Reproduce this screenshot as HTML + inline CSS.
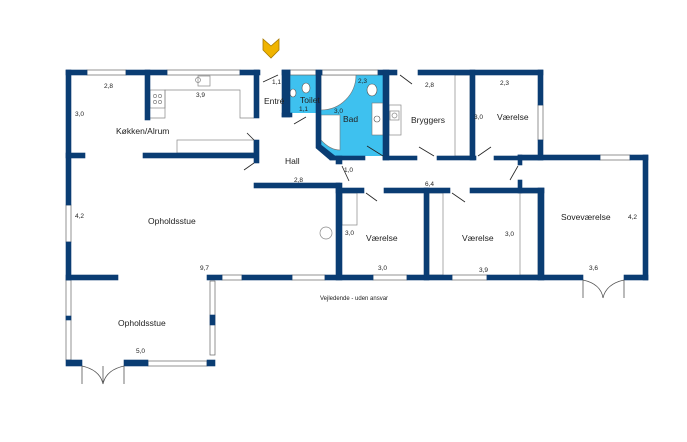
<!DOCTYPE html>
<html><head><meta charset="utf-8"><style>
html,body{margin:0;padding:0;background:#fff;width:687px;height:442px;overflow:hidden}
svg{display:block}
text{font-family:"Liberation Sans",sans-serif;fill:#222}
.r{font-size:8.5px}.d{font-size:6.5px}
</style></head><body>
<svg width="687" height="442" viewBox="0 0 687 442" xmlns="http://www.w3.org/2000/svg">
<rect x="290" y="75" width="26" height="38" fill="#3ec1ef"/>
<polygon points="321,75 383,75 383,156 365,156 333,156 321,145" fill="#3ec1ef"/>
<path d="M321,115 L340,115 L340,150 Q330,150 321,140 Z" fill="#fff" stroke="#777" stroke-width="0.6"/>
<path d="M321,75 L356,75 A35,35 0 0 1 321,110 Z" fill="#fff" stroke="#777" stroke-width="0.6"/>
<rect x="372" y="103" width="11" height="32" fill="#fff" stroke="#777" stroke-width="0.6"/>
<circle cx="377" cy="119" r="3" fill="none" stroke="#555" stroke-width="0.6"/>
<ellipse cx="372" cy="90" rx="5" ry="6" fill="#fff" stroke="#555" stroke-width="0.6"/>
<ellipse cx="306" cy="88" rx="4" ry="5" fill="#fff" stroke="#555" stroke-width="0.6"/>
<ellipse cx="293" cy="93" rx="3" ry="4" fill="#fff" stroke="#555" stroke-width="0.6"/>
<g fill="none" stroke="#888" stroke-width="0.7">
<polyline points="150,118 165,118 165,90 240,90 240,118 254,118"/>
<rect x="150" y="90" width="15" height="18"/>
<rect x="177" y="140" width="77" height="13"/>
<rect x="198" y="76" width="12" height="10"/>
<rect x="389" y="105" width="12" height="30"/>
<rect x="455" y="75" width="15" height="81"/>
<rect x="342" y="193" width="15" height="32"/>
<rect x="429" y="193" width="14" height="82"/>
<rect x="520" y="193" width="18" height="82"/>
<circle cx="326" cy="233" r="6"/>
<circle cx="198" cy="80" r="2.5"/>
<circle cx="155" cy="96" r="1.6"/><circle cx="160" cy="96" r="1.6"/><circle cx="155" cy="102" r="1.6"/><circle cx="160" cy="102" r="1.6"/>
<rect x="390" y="111" width="9" height="9"/>
<circle cx="394.5" cy="115.5" r="2.5"/>
</g>
<g fill="#fff" stroke="#666" stroke-width="0.7">
<rect x="87" y="70" width="39" height="5"/><rect x="167" y="70" width="73" height="5"/>
<rect x="290" y="70" width="26" height="5"/><rect x="322" y="70" width="56" height="5"/>
<rect x="538" y="105" width="5" height="35"/><rect x="600" y="155" width="30" height="5"/>
<rect x="222" y="275" width="20" height="5"/><rect x="292" y="275" width="33" height="5"/>
<rect x="373" y="275" width="34" height="5"/><rect x="452" y="275" width="35" height="5"/>
<rect x="66" y="205" width="5" height="37"/><rect x="66" y="280" width="5" height="80"/>
<rect x="148" y="361" width="59" height="5"/><rect x="210" y="281" width="5" height="74"/>
</g>
<g fill="#0a3d73" stroke="#0a3d73" stroke-width="0.6">
<rect x="66" y="70" width="21" height="5"/><rect x="126" y="70" width="41" height="5"/><rect x="240" y="70" width="20" height="5"/>
<rect x="282" y="70" width="8" height="5"/><rect x="316" y="70" width="6" height="5"/><rect x="378" y="70" width="19" height="5"/><rect x="418" y="70" width="125" height="5"/>
<rect x="538" y="70" width="5" height="35"/><rect x="538" y="140" width="5" height="20"/>
<rect x="518" y="155" width="82" height="5"/><rect x="630" y="155" width="18" height="5"/>
<rect x="643" y="155" width="5" height="125"/>
<rect x="207" y="275" width="15" height="5"/><rect x="242" y="275" width="50" height="5"/><rect x="325" y="275" width="48" height="5"/><rect x="407" y="275" width="45" height="5"/><rect x="487" y="275" width="96" height="5"/><rect x="624" y="275" width="24" height="5"/>
<rect x="66" y="275" width="52" height="5"/>
<rect x="66" y="70" width="5" height="135"/><rect x="66" y="242" width="5" height="38"/><rect x="66" y="316" width="5" height="4"/>
<rect x="66" y="360" width="16" height="6"/><rect x="124" y="360" width="24" height="6"/><rect x="207" y="360" width="8" height="6"/>
<rect x="210" y="315" width="5" height="10"/>
<rect x="145" y="70" width="5" height="50"/>
<rect x="66" y="153" width="19" height="5"/><rect x="143" y="153" width="115" height="5"/>
<rect x="254" y="70" width="5" height="48"/><rect x="254" y="140" width="5" height="23"/>
<rect x="254" y="183" width="86" height="5"/>
<rect x="282" y="70" width="8" height="47"/><rect x="282" y="113" width="10" height="4"/>
<polygon points="316,70 321,70 321,145 335,156 335,160 330,160 316,148"/>
<rect x="330" y="156" width="35" height="4"/>
<rect x="383" y="70" width="6" height="90"/>
<rect x="470" y="70" width="5" height="90"/>
<rect x="383" y="156" width="34" height="4"/><rect x="437" y="156" width="39" height="4"/><rect x="494" y="156" width="49" height="4"/>
<rect x="336" y="156" width="6" height="8"/><rect x="336" y="183" width="6" height="97"/>
<rect x="336" y="188" width="28" height="5"/><rect x="384" y="188" width="66" height="5"/><rect x="470" y="188" width="74" height="5"/>
<rect x="424" y="188" width="5" height="92"/>
<rect x="538" y="188" width="6" height="92"/>
<rect x="518" y="155" width="4" height="10"/><rect x="518" y="180" width="4" height="13"/>
</g>
<g fill="none" stroke="#222" stroke-width="0.8">
<line x1="263" y1="82" x2="278" y2="75"/><line x1="294" y1="124" x2="306" y2="117"/>
<line x1="247" y1="133" x2="254" y2="140"/><line x1="244" y1="170" x2="254" y2="163"/>
<line x1="367" y1="146" x2="383" y2="156"/><line x1="400" y1="75" x2="412" y2="84"/>
<line x1="419" y1="147" x2="434" y2="156"/><line x1="478" y1="156" x2="491" y2="147"/>
<line x1="342" y1="166" x2="349" y2="181"/><line x1="366" y1="193" x2="377" y2="201"/>
<line x1="452" y1="193" x2="465" y2="202"/><line x1="518" y1="166" x2="510" y2="180"/>
<path d="M82,366 L82,384 M124,366 L124,384 M103,366 L103,384 M82,366 Q100,370 103,384 M124,366 Q106,370 103,384" stroke="#555"/>
<path d="M583,280 L583,298 M624,280 L624,298 M583,280 Q601,284 603,298 M624,280 Q606,284 603,298" stroke="#555"/>
</g>
<polygon points="263,39 271,46 279,39 279,50 271,58 263,50" fill="#f0b400" stroke="#a87a00" stroke-width="0.8"/>
<text class="r" x="116" y="134">Køkken/Alrum</text>
<text class="r" x="264" y="104">Entré</text>
<text class="r" x="300" y="103">Toilet</text>
<text class="r" x="343" y="122">Bad</text>
<text class="r" x="411" y="123">Bryggers</text>
<text class="r" x="497" y="120">Værelse</text>
<text class="r" x="285" y="164">Hall</text>
<text class="r" x="148" y="224">Opholdsstue</text>
<text class="r" x="118" y="326">Opholdsstue</text>
<text class="r" x="366" y="241">Værelse</text>
<text class="r" x="462" y="241">Værelse</text>
<text class="r" x="561" y="220">Soveværelse</text>
<g class="d">
<text x="104" y="88">2,8</text><text x="196" y="97">3,9</text><text x="75" y="116">3,0</text>
<text x="272" y="84">1,1</text><text x="299" y="111">1,1</text><text x="358" y="83">2,3</text>
<text x="334" y="113">3,0</text><text x="425" y="87">2,8</text><text x="500" y="85">2,3</text>
<text x="474" y="119">3,0</text><text x="294" y="182">2,8</text><text x="344" y="172">1,0</text>
<text x="425" y="186">6,4</text><text x="75" y="218">4,2</text><text x="200" y="270">9,7</text>
<text x="345" y="235">3,0</text><text x="378" y="270">3,0</text><text x="505" y="236">3,0</text>
<text x="479" y="272">3,9</text><text x="628" y="219">4,2</text><text x="589" y="270">3,6</text>
<text x="136" y="353">5,0</text>
<text x="320" y="300" style="font-size:6px">Vejledende - uden ansvar</text>
</g>
</svg>
</body></html>
